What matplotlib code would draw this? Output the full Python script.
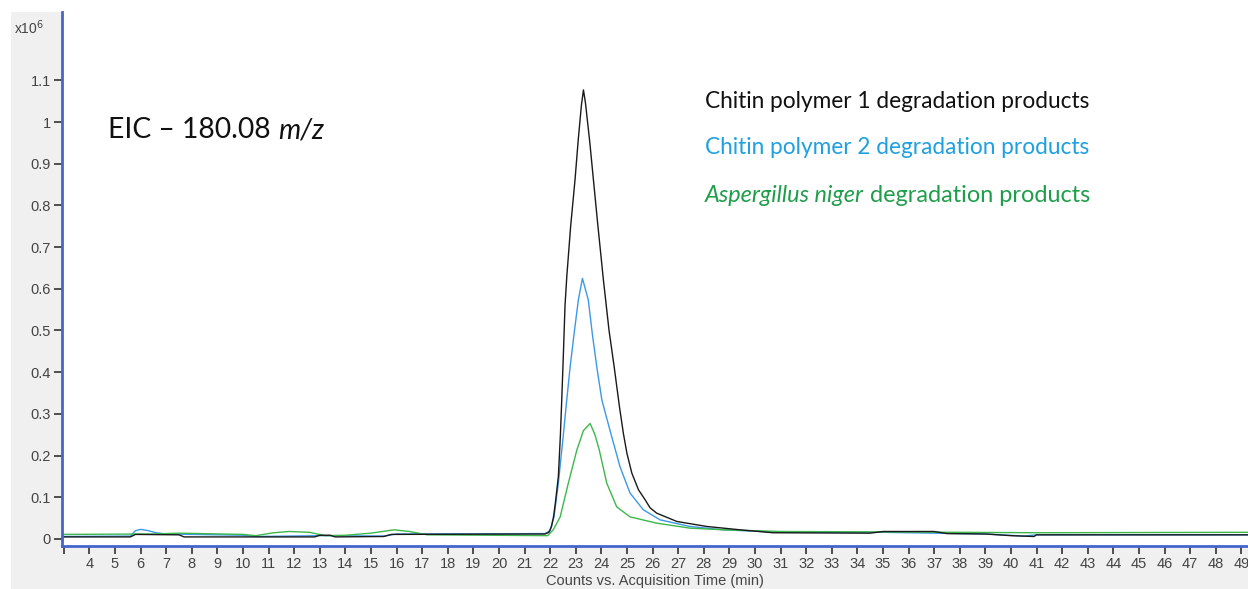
import matplotlib.pyplot as plt
import matplotlib.patches as mpatches
import numpy as np

# EIC traces (time in min, counts in x10^6)
t_black = [2.9, 5.6, 5.8, 7.5, 7.7, 12.8, 13.0, 13.4, 13.6, 15.5, 15.8, 21.8, 21.95, 22.05,
           22.13, 22.2, 22.32, 22.4, 22.45, 22.52, 22.58, 22.65, 22.8, 22.97, 23.1, 23.22,
           23.30, 23.38, 23.55, 23.69, 23.85, 24.08, 24.3, 24.50, 24.7, 24.86, 25.0, 25.19,
           25.45, 25.71, 25.9, 26.16, 26.95, 28.12, 29.42, 30.7, 34.5, 35.0, 37.0, 37.5,
           39.0, 40.0, 40.9, 41.0, 49.3]
v_black = [0.005, 0.005, 0.011, 0.010, 0.005, 0.005, 0.009, 0.009, 0.005, 0.006, 0.011, 0.012, 0.016, 0.030,
           0.053, 0.085, 0.150, 0.250, 0.330, 0.450, 0.560, 0.630, 0.750, 0.861, 0.960, 1.040,
           1.077, 1.045, 0.950, 0.861, 0.760, 0.621, 0.500, 0.413, 0.320, 0.253, 0.205, 0.158,
           0.118, 0.094, 0.075, 0.062, 0.042, 0.030, 0.022, 0.015, 0.014, 0.018, 0.018, 0.013,
           0.012, 0.008, 0.006, 0.010, 0.010]

t_blue = [2.9, 5.6, 5.8, 6.0, 6.3, 6.6, 7.0, 10.0, 10.5, 13.0, 15.5, 16.0, 21.8, 22.0,
          22.15, 22.32, 22.52, 22.65, 22.78, 22.95, 23.10, 23.26, 23.49, 23.65, 23.82, 24.02,
          24.37, 24.73, 25.12, 25.64, 26.29, 27.46, 28.76, 31.0, 35.0, 39.0, 40.5, 41.0, 49.3]
v_blue = [0.006, 0.007, 0.020, 0.023, 0.020, 0.015, 0.012, 0.009, 0.006, 0.008, 0.007, 0.012, 0.013, 0.020,
          0.053, 0.134, 0.253, 0.335, 0.413, 0.500, 0.573, 0.625, 0.573, 0.490, 0.413, 0.333,
          0.253, 0.173, 0.110, 0.070, 0.046, 0.030, 0.022, 0.016, 0.016, 0.012, 0.007, 0.010, 0.010]

t_green = [2.9, 6.5, 7.5, 10.0, 10.5, 11.2, 11.8, 12.6, 13.2, 14.0, 15.0, 15.9, 16.5, 17.2,
           21.9, 22.12, 22.39, 22.71, 23.04, 23.3, 23.56, 23.75, 23.92, 24.21, 24.60, 25.12,
           26.16, 27.46, 28.8, 31.0, 35.0, 38.0, 41.0, 49.3]
v_green = [0.011, 0.012, 0.014, 0.011, 0.008, 0.015, 0.018, 0.016, 0.008, 0.009, 0.014, 0.022, 0.018, 0.010,
           0.008, 0.022, 0.053, 0.134, 0.213, 0.260, 0.277, 0.250, 0.213, 0.134, 0.077, 0.053,
           0.038, 0.026, 0.022, 0.018, 0.017, 0.016, 0.015, 0.016]

y_ticks = [0, 0.1, 0.2, 0.3, 0.4, 0.5, 0.6, 0.7, 0.8, 0.9, 1.0, 1.1]
y_labels = ['0', '0.1', '0.2', '0.3', '0.4', '0.5', '0.6', '0.7', '0.8', '0.9', '1', '1.1']
x_ticks = list(range(3, 50))
x_labels = [''] + [str(i) for i in range(4, 50)]

W, H = 1248, 589
fig = plt.figure(figsize=(W / 100, H / 100), dpi=100, facecolor='white')

# gray frame around the plot area like the instrument software
fig.patches.append(mpatches.Rectangle((11 / W, 0), 1 - 11 / W, 1 - 12 / H,
                                      transform=fig.transFigure, facecolor='#f0f0f0',
                                      edgecolor='none', zorder=-5))

ax = fig.add_axes([62 / W, 1 - 546 / H, 1 - 62 / W, (546 - 12) / H])
ax.set_zorder(2)
ax.set_facecolor('white')

ax.plot(t_blue, v_blue, color='#3c98e8', lw=1.0)
ax.plot(t_green, v_green, color='#3cb84a', lw=1.0)
ax.plot(t_black, v_black, color='#1a1a1a', lw=1.0)

ax.set_xlim(2.93, 49.26)
ax.set_ylim(-0.0168, 1.2638)

ax.set_yticks(y_ticks)
ax.set_yticklabels(y_labels)
ax.set_xticks(x_ticks)
ax.set_xticklabels(x_labels)
ax.tick_params(axis='both', colors='#333333', labelcolor='#444444', labelsize=10.5,
               length=6, width=1.2, pad=2)
for lab in ax.get_xticklabels() + ax.get_yticklabels():
    lab.set_family('Liberation Sans')

for s in ['top', 'right']:
    ax.spines[s].set_visible(False)
for s in ['left', 'bottom']:
    ax.spines[s].set_color('#4466cc')
    ax.spines[s].set_linewidth(2)

ax.set_xlabel('Counts vs. Acquisition Time (min)', fontsize=10.5, family='Liberation Sans',
              color='#444444', labelpad=2)

fig.text(14 / W, 1 - 28 / H, r'x10$^{6}$', fontsize=10, family='Liberation Sans',
         color='#444444', va='center', zorder=5)

fig.canvas.draw()
renderer = fig.canvas.get_renderer()


def fit_line(x0, y0, parts, target_w, size, color):
    # draw a line of text made of (string, style) parts, scaled to the target width
    texts = []
    x = x0
    for s, st in parts:
        t = fig.text(x / W, 1 - y0 / H, s, fontsize=size, family='Lato', style=st,
                     color=color, va='center', ha='left', zorder=5)
        x = t.get_window_extent(renderer).x1
        texts.append(t)
    width = x - x0
    k = target_w / width
    x = x0
    for t in texts:
        t.set_fontsize(size * k)
        t.set_x(x / W)
        x = t.get_window_extent(renderer).x1
    return texts


fit_line(108, 130, [('EIC – 180.08 ', 'normal'), ('m/z', 'italic')], 215, 18, '#111111')
fit_line(705, 101, [('Chitin polymer 1 degradation products', 'normal')], 383, 13, '#111111')
fit_line(705, 147, [('Chitin polymer 2 degradation products', 'normal')], 383, 13, '#1fa0e0')
fit_line(705, 195, [('Aspergillus niger ', 'italic'), ('degradation products', 'normal')], 383, 13, '#1f9e4a')

fig.savefig('out.png', dpi=100, facecolor=fig.get_facecolor())
